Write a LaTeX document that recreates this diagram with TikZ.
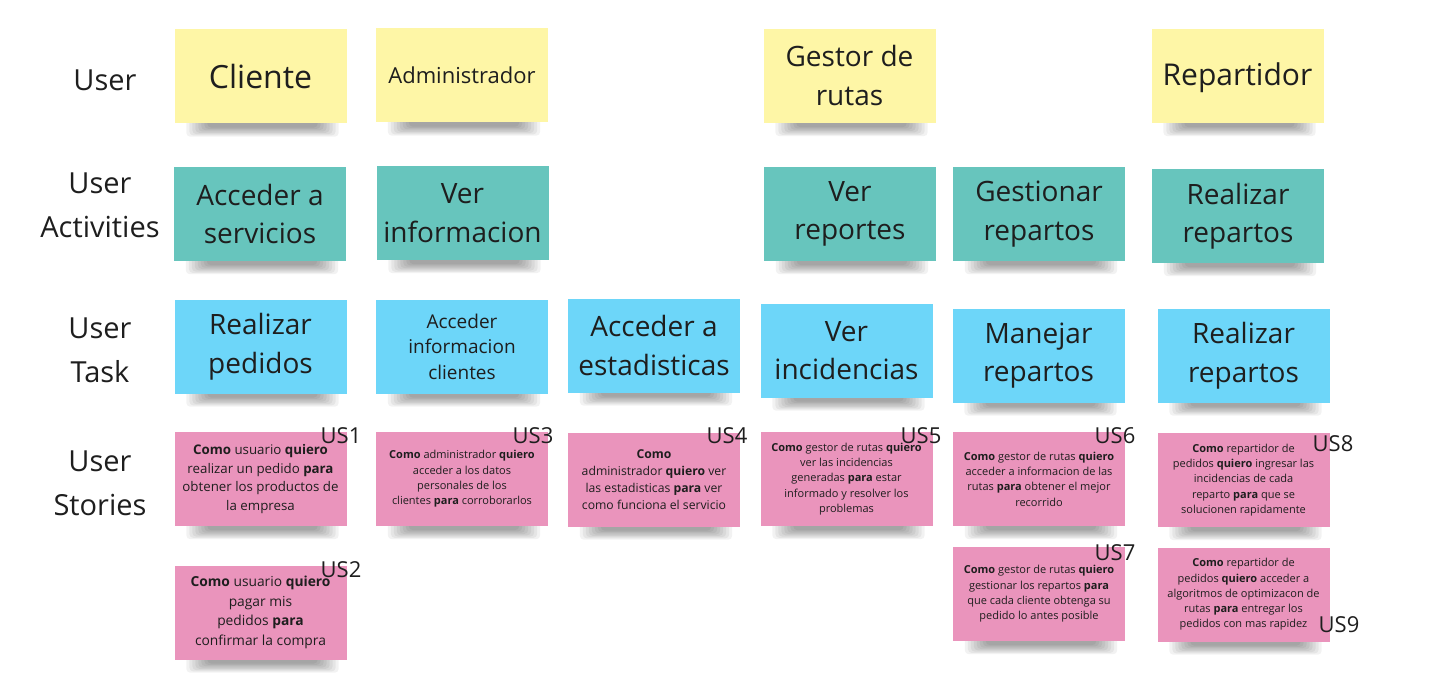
\documentclass[tikz,border=0pt]{standalone}
\usepackage{fontspec}
\setmainfont{Open Sans}
\usetikzlibrary{backgrounds}
\definecolor{ink}{HTML}{1E1E1E}
\definecolor{nyellow}{HTML}{FEF6A6}
\definecolor{nteal}{HTML}{67C5BD}
\definecolor{nblue}{HTML}{6DD6F9}
\definecolor{npink}{HTML}{EA94BC}
\tikzset{
  note/.style={rectangle, minimum width=172pt, minimum height=94pt, inner sep=0pt, align=center, text=ink},
  usernote/.style={note, fill=nyellow},
  actnote/.style={note, fill=nteal},
  tasknote/.style={note, fill=nblue},
  storynote/.style={note, fill=npink},
  big/.style={font=\fontsize{28}{38.5}\selectfont},
  story/.style={font=\fontsize{11}{15.3}\selectfont},
  storybig/.style={font=\fontsize{13.3}{18.5}\selectfont},
  rowlabel/.style={align=center, text=ink, inner sep=0pt, font=\fontsize{29}{44}\selectfont},
  uslabel/.style={text=ink, inner sep=0pt, font=\fontsize{22}{26}\selectfont},
  shadowlayer/.style={fill=black, opacity=0.05, rounded corners=4pt},
}
\begin{document}
\begin{tikzpicture}[x=1pt, y=-1pt]
\useasboundingbox (0,0) rectangle (1437,695);
% row labels
\node[rowlabel] (lUser) at (105,80) {User};
\node[rowlabel] (lAct) at (100,205) {User\\Activities};
\node[rowlabel] (lTask) at (100,350) {User\\Task};
\node[rowlabel] (lStory) at (100,483.5) {User\\Stories};
% users
\node[usernote, font=\fontsize{32}{40}\selectfont] (uCliente) at (260.5,76.5) {Cliente};
\node[usernote, font=\fontsize{22}{28}\selectfont] (uAdmin) at (462,75.5) {Administrador};
\node[usernote, font=\fontsize{28}{39}\selectfont] (uGestor) at (849.5,76) {Gestor de\\rutas};
\node[usernote, font=\fontsize{30}{38}\selectfont, text depth=6pt, text height=25pt] (uRep) at (1237.5,76) {Repartidor};
% activities
\node[actnote, big] (aAcc) at (260,214) {Acceder a\\servicios};
\node[actnote, big] (aVer) at (462.5,213) {Ver\\informacion};
\node[actnote, big] (aRep) at (850,214) {Ver\\reportes};
\node[actnote, big] (aGes) at (1039,214) {Gestionar\\repartos};
\node[actnote, big] (aRea) at (1238,216) {Realizar\\repartos};
% tasks
\node[tasknote, big] (tPed) at (260.5,346.5) {Realizar\\pedidos};
\node[tasknote, font=\fontsize{19}{25.5}\selectfont] (tInf) at (462,346.5) {Acceder\\informacion\\clientes};
\node[tasknote, big] (tEst) at (654,345.5) {Acceder a\\estadisticas};
\node[tasknote, big] (tInc) at (846.5,350.5) {Ver\\incidencias};
\node[tasknote, big] (tMan) at (1038.5,355.5) {Manejar\\repartos};
\node[tasknote, big] (tRea) at (1243.5,355.5) {Realizar\\repartos};
% stories
\node[storynote, storybig] (s1) at (260.5,479) {\textbf{Como} usuario \textbf{quiero}\\realizar un pedido \textbf{para}\\obtener los productos de\\la empresa};
\node[storynote, story] (s3) at (462,479) {\textbf{Como} administrador \textbf{quiero}\\acceder a los datos\\personales de los\\clientes \textbf{para} corroborarlos};
\node[storynote, font=\fontsize{12.2}{17}\selectfont] (s4) at (654,479.5) {\textbf{Como}\\administrador \textbf{quiero} ver\\las estadisticas \textbf{para} ver\\como funciona el servicio};
\node[storynote, story] (s5) at (846.5,479) {\textbf{Como} gestor de rutas \textbf{quiero}\\ver las incidencias\\generadas \textbf{para} estar\\informado y resolver los\\problemas};
\node[storynote, story] (s6) at (1039,479) {\textbf{Como} gestor de rutas \textbf{quiero}\\acceder a informacion de las\\rutas \textbf{para} obtener el mejor\\recorrido};
\node[storynote, story] (s8) at (1243.5,480) {\textbf{Como} repartidor de\\pedidos \textbf{quiero} ingresar las\\incidencias de cada\\reparto \textbf{para} que se\\solucionen rapidamente};
\node[storynote, font=\fontsize{13.8}{19.5}\selectfont] (s2) at (260.5,612.5) {\textbf{Como} usuario \textbf{quiero}\\pagar mis\\pedidos \textbf{para}\\confirmar la compra};
\node[storynote, story] (s7) at (1039,594) {\textbf{Como} gestor de rutas \textbf{quiero}\\gestionar los repartos \textbf{para}\\que cada cliente obtenga su\\pedido lo antes posible};
\node[storynote, story] (s9) at (1243.5,594.5) {\textbf{Como} repartidor de\\pedidos \textbf{quiero} acceder a\\algoritmos de optimizacon de\\rutas \textbf{para} entregar los\\pedidos con mas rapidez};
% story ids
\node[uslabel] (us1) at (341,436) {US1};
\node[uslabel] (us3) at (533,436) {US3};
\node[uslabel] (us4) at (727,436) {US4};
\node[uslabel] (us5) at (921,436) {US5};
\node[uslabel] (us6) at (1115,436) {US6};
\node[uslabel] (us8) at (1333,444) {US8};
\node[uslabel] (us2) at (341,570) {US2};
\node[uslabel] (us7) at (1115,553) {US7};
\node[uslabel] (us9) at (1339,625) {US9};
% shadows and background
\begin{scope}[on background layer]
\fill[white] (0,0) rectangle (1437,695);
\foreach \n in {uCliente,uAdmin,uGestor,uRep,aAcc,aVer,aRep,aGes,aRea,tPed,tInf,tEst,tInc,tMan,tRea,s1,s3,s4,s5,s6,s8,s2,s7,s9}{
  \foreach \k in {0,...,7}{
    \fill[shadowlayer] ([xshift={(12+3*\k)*1pt}, yshift=8pt]\n.south west) rectangle ([xshift={-(8+3*\k)*1pt}, yshift={-(13-1.3*\k)*1pt}]\n.south east);
  }
}
\end{scope}
\end{tikzpicture}
\end{document}
